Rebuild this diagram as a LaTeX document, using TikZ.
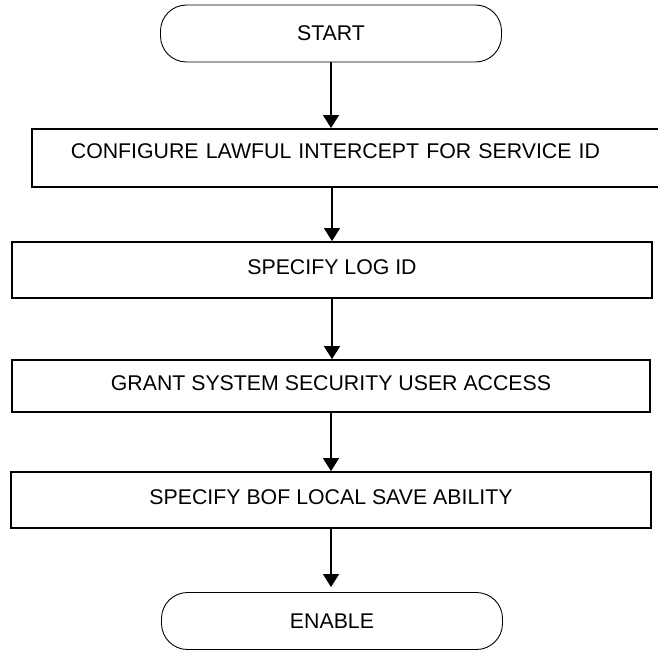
\documentclass[tikz,border=0pt]{standalone}
\usepackage{fontspec}
\setmainfont{Liberation Sans}
\usetikzlibrary{arrows.meta,positioning}
\tikzset{terminal/.style={
    draw, rounded corners=26pt, line width=0.9pt, minimum width=341pt, minimum height=57pt},
  stepbox/.style={
    draw, line width=1.8pt, text depth=5pt},
  flow/.style={-{Triangle[width=16pt,length=13pt]}, line width=1.4pt}
}

\begin{document}
\begin{tikzpicture}[x=1pt,y=-1pt,font=\fontsize{21.3pt}{25pt}\selectfont]
        \useasboundingbox (0,0) rectangle (658,649);
        %terminals
        \node[terminal](start) at (331,33.5){START};
        \node[terminal](enable) at (332,621){ENABLE};
        
        %steps
        \node[stepbox, anchor=north west, align=left, text width=582pt, inner xsep=39pt,
          inner ysep=0pt, text height=29.6pt, text depth=28.4pt](conf) at (31,128)
          {CONFIGURE LAWFUL INTERCEPT FOR SERVICE ID};
        \node[stepbox, minimum width=640pt, minimum height=56pt](logid) at (332,270){SPECIFY LOG ID};
        \node[stepbox, minimum width=638pt, minimum height=52pt](grant) at (331,386){GRANT SYSTEM SECURITY USER ACCESS};
        \node[stepbox, minimum width=640pt, minimum height=56pt](bof) at (331,500){SPECIFY BOF LOCAL SAVE ABILITY};
        
        %arrows
        \draw[flow] (start) -- (start |- conf.north);
        \draw[flow] (conf.south -| logid) -- (logid);
        \draw[flow] (logid) -- (logid |- grant.north);
        \draw[flow] (grant) -- (grant |- bof.north);
        \draw[flow, shorten >=5pt] (bof) -- (bof |- enable.north);
        
        \end{tikzpicture}
\end{document}
